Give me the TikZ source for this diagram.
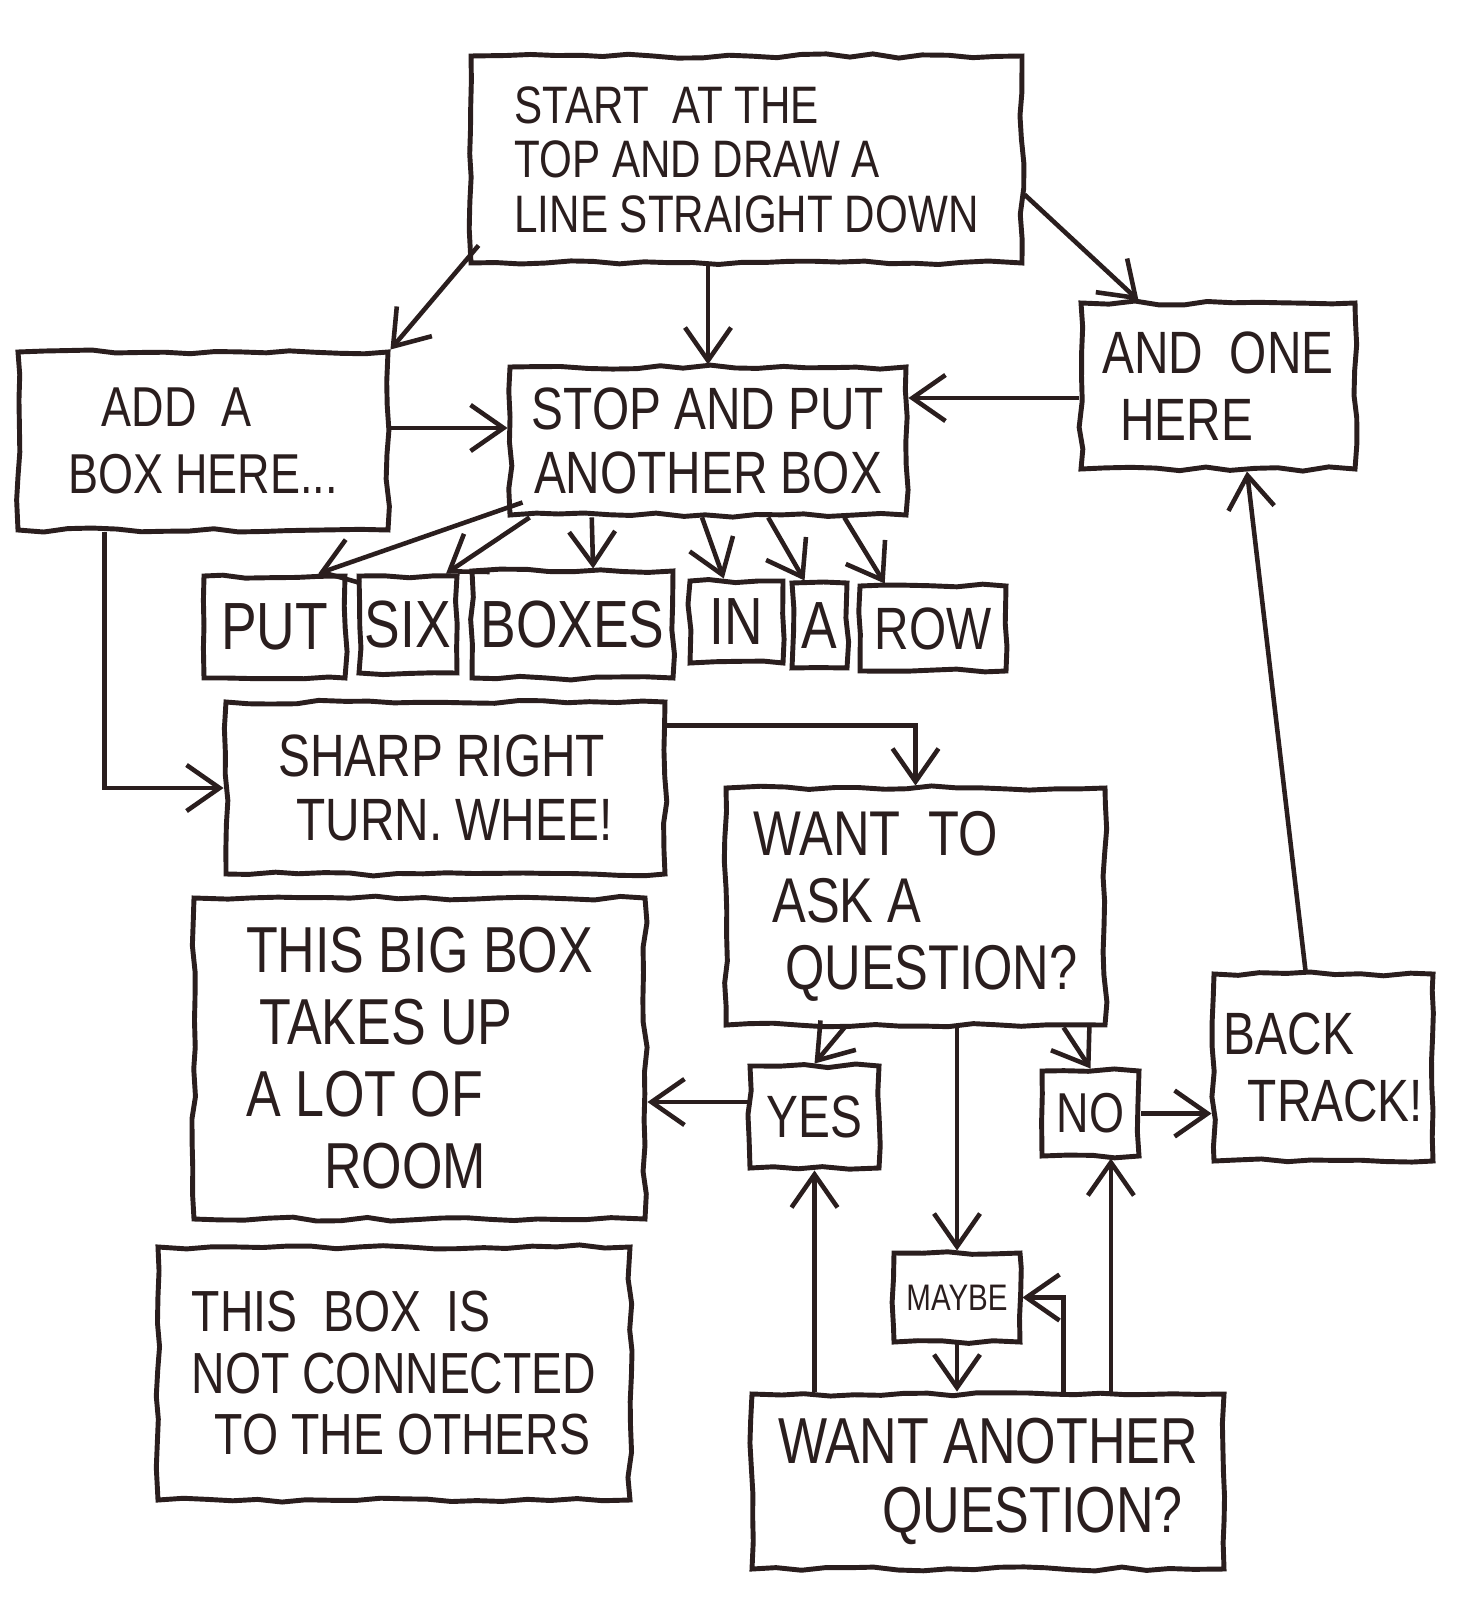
\documentclass[tikz,border=0pt]{standalone}
\usepackage{fontspec}
\newfontfamily\handfont[FakeStretch=0.8]{Liberation Sans}
\usepackage{xcolor}
\usepackage{tikz}
\usetikzlibrary{calc}
\usetikzlibrary{arrows.meta}
\usetikzlibrary{decorations.pathmorphing}
\definecolor{ink}{RGB}{42,30,30}

\begin{document}
\begin{tikzpicture}[
	box/.style={draw=ink,line width=1.4pt,text=ink,inner sep=0pt,
		decorate,decoration={random steps,segment length=7pt,amplitude=0.6pt}},
	sz/.style 2 args={font=\handfont\fontsize{#1}{#2}\selectfont},
	arr/.style={draw=ink,line width=1.3pt,-{Straight Barb[length=3.3mm,width=4.6mm]}},
	]
	\pgfmathsetseed{7}
	\path[use as bounding box,fill=white] (0,0) rectangle (14.74,-16);
	\node[box,sz={15}{15.5},align=left,minimum width=5.51cm,minimum height=2.07cm] (start) at (7.465,-1.595) {START\ \ AT THE\\TOP AND DRAW A\\LINE STRAIGHT DOWN};
	\node[box,sz={16}{19},align=left,minimum width=3.70cm,minimum height=1.78cm] (addbox) at (2.03,-4.41) {\hspace*{0.6em}ADD\ \ A\\BOX HERE...};
	\node[box,sz={17}{18},align=center,minimum width=3.96cm,minimum height=1.48cm] (stop) at (7.08,-4.41) {STOP AND PUT\\ANOTHER BOX};
	\node[box,sz={17}{19},align=left,minimum width=2.74cm,minimum height=1.66cm] (onehere) at (12.18,-3.86) {AND\ \ ONE\\\hspace*{0.3em}HERE};
	\node[box,sz={19}{20},minimum width=1.41cm,minimum height=1.02cm] (put) at (2.745,-6.27) {PUT};
	\node[box,sz={19}{20},minimum width=0.98cm,minimum height=0.97cm] (six) at (4.08,-6.245) {SIX};
	\node[box,sz={19}{20},minimum width=2.01cm,minimum height=1.07cm] (boxes) at (5.725,-6.245) {BOXES};
	\node[box,sz={19}{20},minimum width=0.93cm,minimum height=0.82cm] (inbox) at (7.365,-6.22) {IN};
	\node[box,sz={19}{20},minimum width=0.55cm,minimum height=0.85cm] (abox) at (8.195,-6.255) {A};
	\node[box,sz={17}{18},minimum width=1.46cm,minimum height=0.85cm] (row) at (9.33,-6.285) {ROW};
	\node[box,sz={17}{18},align=left,minimum width=4.39cm,minimum height=1.72cm] (sharp) at (4.455,-7.88) {SHARP RIGHT\\\hspace*{0.3em}TURN. WHEE!};
	\node[box,sz={18}{19},align=left,minimum width=3.79cm,minimum height=2.37cm] (wantask) at (9.155,-9.065) {WANT\ \ TO\\\hspace*{0.3em}ASK A\\\hspace*{0.5em}QUESTION?};
	\node[box,sz={18.5}{20.5},align=left,minimum width=4.51cm,minimum height=3.21cm] (bigbox) at (4.195,-10.585) {THIS BIG BOX\\\hspace*{0.2em}TAKES UP\\A LOT OF\\\hspace*{1.2em}ROOM};
	\node[box,sz={17}{18},minimum width=1.29cm,minimum height=1.02cm] (yes) at (8.145,-11.17) {YES};
	\node[box,sz={16}{17},minimum width=0.97cm,minimum height=0.85cm] (no) at (10.905,-11.135) {NO};
	\node[box,sz={17}{19},align=left,minimum width=2.19cm,minimum height=1.87cm] (back) at (13.235,-10.675) {BACK\\\hspace*{0.4em}TRACK!};
	\node[box,sz={10.5}{11},minimum width=1.26cm,minimum height=0.89cm] (maybe) at (9.57,-12.975) {MAYBE};
	\node[box,sz={18.5}{19.5},align=left,minimum width=4.72cm,minimum height=1.75cm] (wantanother) at (9.88,-14.815) {WANT ANOTHER\\\hspace*{1.6em}QUESTION?};
	\node[box,sz={16.5}{17.5},align=left,minimum width=4.72cm,minimum height=2.53cm] (notconn) at (3.94,-13.735) {THIS\ \ BOX\ \ IS\\NOT CONNECTED\\\hspace*{0.4em}TO THE OTHERS};
	\draw[arr] ($(start.south west)+(0.1,0.2)$) -- (addbox.north east);
	\draw[arr] (stop.north |- start.south) -- (stop.north);
	\draw[arr] ($(start.east)+(0,-0.35)$) -- ($(onehere.north west)+(0.6,0)$);
	\draw[arr] ($(addbox.east)+(0,0.13)$) -- ($(stop.west)+(0,0.13)$);
	\coordinate (ohleft) at ($(onehere.west)+(0,-0.12)$);
	\draw[arr] (ohleft) -- (ohleft -| stop.east);
	\draw[arr] ($(stop.south west)+(0.15,0.15)$) -- ($(put.north west)!0.8!(put.north east)$);
	\draw[arr] ($(stop.south west)!0.055!(stop.south east)$) -- ($(six.north west)!0.87!(six.north east)$);
	\draw[arr] ($(stop.south west)!0.21!(stop.south east)$) -- ($(boxes.north west)!0.6!(boxes.north east)$);
	\draw[arr] ($(stop.south west)!0.485!(stop.south east)$) -- ($(inbox.north west)!0.37!(inbox.north east)$);
	\draw[arr] ($(stop.south west)!0.65!(stop.south east)$) -- ($(abox.north west)!0.25!(abox.north east)$);
	\draw[arr] ($(stop.south west)!0.84!(stop.south east)$) -- ($(row.north west)!0.18!(row.north east)$);
	\draw[arr] ($(addbox.south west)+(0.89,0)$) |- (sharp.west);
	\draw[arr] ($(sharp.north east)+(0,-0.26)$) -| (wantask.north);
	\draw[arr] ($(wantask.south west)+(1.21,0)$) -- (yes.north);
	\draw[arr] ($(wantask.south west)+(3.4,0)$) -- (no.north);
	\draw[arr] (maybe.north |- wantask.south) -- (maybe.north);
	\coordinate (yesleft) at ($(yes.west)+(0,0.15)$);
	\draw[arr] (yesleft) -- (yesleft -| bigbox.east);
	\draw[arr] (no.east) -- (no.east -| back.west);
	\draw[arr] ($(back.north west)!0.42!(back.north east)$) -- ($(onehere.south)+(0.29,0)$);
	\draw[arr] (yes.south |- wantanother.north) -- (yes.south);
	\coordinate (nobottom) at ($(no.south west)!0.7!(no.south east)$);
	\draw[arr] (nobottom |- wantanother.north) -- (nobottom);
	\draw[arr] (maybe.south) -- (maybe.south |- wantanother.north);
	\draw[arr] ($(wantanother.north west)+(3.14,0)$) |- (maybe.east);
\end{tikzpicture}
\end{document}
